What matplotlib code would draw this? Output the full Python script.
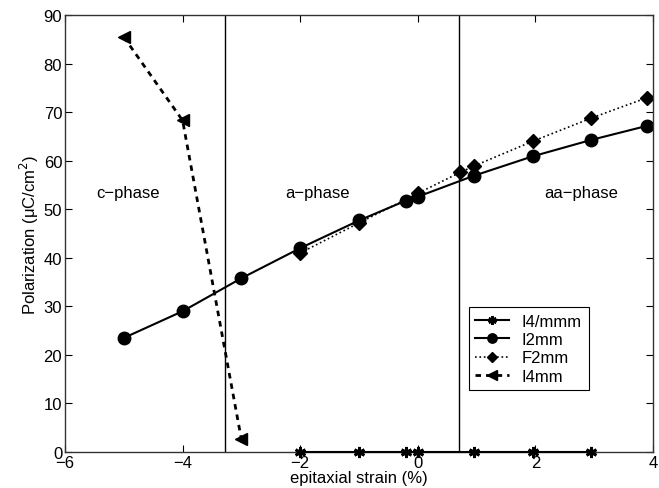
import numpy as np
import matplotlib
matplotlib.use("Agg")
from matplotlib import pyplot as plt

plt.rcParams['font.family'] = ['Liberation Sans', 'DejaVu Sans']
plt.rcParams['font.size'] = 12

# strain (%) and polarization (uC/cm^2)
x_i4mmm = [-2, -1, -0.2, 0, 0.95, 1.95, 2.95]
y_i4mmm = [0, 0, 0, 0, 0, 0, 0]

x_i2mm = [-5, -4, -3, -2, -1, -0.2, 0, 0.95, 1.95, 2.95, 3.9]
y_i2mm = [23.5, 29.0, 35.8, 42.0, 47.7, 51.8, 52.6, 56.9, 60.9, 64.3, 67.2]

x_f2mm = [-2, -1, 0, 0.72, 0.95, 1.95, 2.95, 3.9]
y_f2mm = [41.0, 47.2, 53.3, 57.6, 58.9, 64.0, 68.8, 73.0]

x_i4mm = [-5, -4, -3]
y_i4mm = [85.5, 68.3, 2.6]

phase_bounds = [-3.28, 0.7]
phase_names = ['c\u2212phase', 'a\u2212phase', 'aa\u2212phase']
phase_x = [-5.46, -2.26, 2.15]
phase_y = 53.5

fig = plt.figure(figsize=(6.59, 4.89), dpi=100)
ax = fig.add_axes([0.0986, 0.0736, 0.8924, 0.8934])

ax.plot(x_i4mmm, y_i4mmm, '-', color='k', lw=1.5, marker=(6, 2, 0), ms=8, mew=2,
        label='I4/mmm', clip_on=False, zorder=5)
ax.plot(x_i2mm, y_i2mm, '-', color='k', lw=1.5, marker='o', ms=9, label='I2mm')
ax.plot(x_f2mm, y_f2mm, ':', color='k', lw=1.2, marker='D', ms=7, label='F2mm')
ax.plot(x_i4mm, y_i4mm, '--', color='k', lw=2, dashes=(2, 1.8), marker='<', ms=9, label='I4mm')

for b in phase_bounds:
    ax.axvline(b, color='k', lw=1)

for name, px in zip(phase_names, phase_x):
    ax.text(px, phase_y, name, ha='left', va='center', fontsize=12)

ax.set_xlim(-6, 4)
ax.set_ylim(0, 90)
ax.set_xticks(np.arange(-6, 5, 2))
ax.set_yticks(np.arange(0, 91, 10))
ax.set_xticklabels(['\u22126', '\u22124', '\u22122', '0', '2', '4'])
ax.tick_params(direction='in', top=True, right=True, length=5, pad=2, labelsize=12)
for s in ax.spines.values():
    s.set_linewidth(1)
    s.set_color('#333333')

ax.set_xlabel('epitaxial strain (%)', labelpad=0)
ax.set_ylabel('Polarization (\u03bcC/cm$^2$)', labelpad=2)

leg = ax.legend(loc='lower left', bbox_to_anchor=(0.672, 0.122), fancybox=False,
                edgecolor='k', framealpha=1, handlelength=2, borderpad=0.4,
                labelspacing=0.2, fontsize=12, markerscale=0.75)
leg.get_frame().set_linewidth(0.8)

fig.savefig('out.png', dpi=100)
